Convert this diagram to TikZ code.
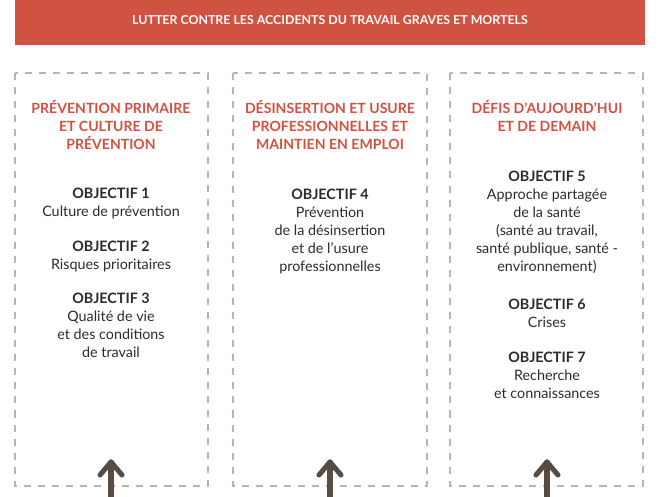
\documentclass[tikz,border=0pt]{standalone}
\usepackage{fontspec}
\setmainfont{Lato}
\definecolor{redM}{HTML}{CF5242}
\definecolor{dashG}{HTML}{BDB3AB}
\definecolor{arrowG}{HTML}{574C44}
\definecolor{textG}{HTML}{2E2A28}
\tikzset{
  banner/.style = {fill=redM, draw=none},
  pillar/.style = {draw=dashG, line width=1.3pt, dash pattern=on 5pt off 5pt},
  title/.style = {align=center, text=redM, font=\fontsize{10}{12.8}\selectfont\bfseries},
  goal/.style = {align=center, text=textG, font=\fontsize{10.2}{12.8}\selectfont},
  up/.style = {draw=arrowG, line width=3.6pt, line cap=round, line join=round}
}
\begin{document}
\begin{tikzpicture}[x=0.025cm, y=-0.025cm]
  \useasboundingbox (0,0) rectangle (660,496);
  % bandeau
  \fill[banner] (15,0) rectangle (645,45);
  \node[font=\fontsize{8.8}{10}\selectfont\bfseries, text=white] (top) at (330,20)
    {LUTTER CONTRE LES ACCIDENTS DU TRAVAIL GRAVES ET MORTELS};
  % colonnes
  \draw[pillar] (15,73) rectangle (208,486);
  \draw[pillar] (233,73) rectangle (427,486);
  \draw[pillar] (450,73) rectangle (643,486);
  % titres
  \node[title] (t1) at (111,125) {PRÉVENTION PRIMAIRE\\ET CULTURE DE\\PRÉVENTION};
  \node[title] (t2) at (330,125) {DÉSINSERTION ET USURE\\PROFESSIONNELLES ET\\MAINTIEN EN EMPLOI};
  \node[title] (t3) at (547,116) {DÉFIS D’AUJOURD’HUI\\ET DE DEMAIN};
  % objectifs
  \node[goal] (o1) at (111,203) {\textbf{OBJECTIF 1}\\Culture de prévention};
  \node[goal] (o2) at (111,256) {\textbf{OBJECTIF 2}\\Risques prioritaires};
  \node[goal] (o3) at (111,325) {\textbf{OBJECTIF 3}\\Qualité de vie\\et des conditions\\de travail};
  \node[goal] (o4) at (330,231) {\textbf{OBJECTIF 4}\\Prévention\\de la désinsertion\\et de l’usure\\professionnelles};
  \node[goal] (o5) at (547,222) {\textbf{OBJECTIF 5}\\Approche partagée\\de la santé\\(santé au travail,\\santé publique, santé -\\environnement)};
  \node[goal] (o6) at (547,313) {\textbf{OBJECTIF 6}\\Crises};
  \node[goal] (o7) at (547,375) {\textbf{OBJECTIF 7}\\Recherche\\et connaissances};
  % fleches
  \foreach \n/\x in {a/111, b/330, c/547} {
    \coordinate (\n0) at (\x,500);
    \coordinate (\n1) at (\x,462);
    \draw[up] (\n0) -- (\n1);
    \draw[up] (\x-11,475) -- (\n1) -- (\x+11,475);
  }
\end{tikzpicture}
\end{document}
